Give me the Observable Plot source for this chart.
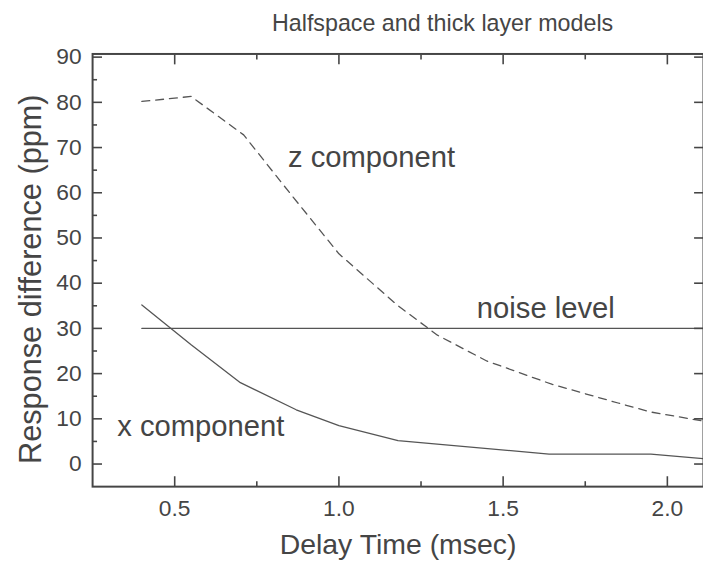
<!DOCTYPE html>
<html>
<head>
<meta charset="utf-8">
<script src="https://cdn.jsdelivr.net/npm/d3@7"></script>
<script src="https://cdn.jsdelivr.net/npm/@observablehq/plot@0.6"></script>
<style>
html, body { margin: 0; padding: 0; background: #fff; overflow: hidden; width: 703px; height: 569px; }
#chart svg { display: block; }
</style>
</head>
<body>
<div id="chart"></div>
<script>
// ---- chart text ----
const chartTitle = "Halfspace and thick layer models";
const xAxisTitle = "Delay Time (msec)";
const yAxisTitle = "Response difference (ppm)";

// ---- ticks ----
const xMajorTicks = [0.5, 1.0, 1.5, 2.0];
const xMinorTicks = [0.75, 1.25, 1.75];
const yMajorTicks = [0, 10, 20, 30, 40, 50, 60, 70, 80, 90];
const yMinorTicks = [5, 15, 25, 35, 45, 55, 65, 75, 85];

// ---- series ----
const xCompTime  = [0.4, 0.55, 0.7, 0.87, 1.0, 1.18, 1.64, 1.95, 2.11];
const xCompValue = [35.2, 26.4, 18.0, 12.0, 8.5, 5.2, 2.2, 2.2, 1.2];

const zCompTime  = [0.4, 0.55, 0.71, 0.85, 1.0, 1.18, 1.3, 1.45, 1.65, 1.85, 1.95, 2.11];
const zCompValue = [80.2, 81.3, 72.8, 60.0, 46.5, 35.0, 28.5, 22.8, 17.6, 13.5, 11.5, 9.5];

const noiseTime  = [0.4, 2.11];
const noiseValue = [30, 30];

// ---- in-plot labels ----
const labelText = ["z component", "noise level", "x component"];
const labelTime = [0.845, 1.42, 0.325];
const labelValue = [65.7, 32.2, 6.3];

const toRows = (xs, ys) => xs.map((x, i) => ({x, y: ys[i]}));
const xRows = toRows(xCompTime, xCompValue);
const zRows = toRows(zCompTime, zCompValue);
const nRows = toRows(noiseTime, noiseValue);
const labelRows = labelText.map((t, i) => ({t, x: labelTime[i], y: labelValue[i]}));

const ink = "#454545";
const lineInk = "#555555";
const tickOpts = {fill: "none", label: null, stroke: ink, strokeWidth: 1.6};

const chart = Plot.plot({
  width: 710,
  height: 569,
  marginLeft: 93,
  marginRight: 0,
  marginTop: 54,
  marginBottom: 78,
  style: {fontFamily: "'Liberation Sans', Arial, Helvetica, sans-serif", fontSize: "23px", color: ink, background: "#fff"},
  x: {domain: [0.25, 2.11]},
  y: {domain: [-5, 90.7]},
  marks: [
    Plot.line(nRows, {x: "x", y: "y", stroke: lineInk, strokeWidth: 1.3}),
    Plot.line(xRows, {x: "x", y: "y", stroke: lineInk, strokeWidth: 1.3}),
    Plot.line(zRows, {x: "x", y: "y", stroke: lineInk, strokeWidth: 1.3, strokeDasharray: "8,6"}),
    Plot.text(labelRows, {x: "x", y: "y", text: "t", textAnchor: "start", lineAnchor: "bottom", fontSize: 29.5, fill: ink}),

    // inward ticks
    Plot.axisY(yMajorTicks, {anchor: "left", tickSize: -10, ...tickOpts}),
    Plot.axisY(yMinorTicks, {anchor: "left", tickSize: -5, ...tickOpts}),
    Plot.axisY(yMajorTicks, {anchor: "right", tickSize: -10, ...tickOpts}),
    Plot.axisX(xMajorTicks, {anchor: "bottom", tickSize: -10, ...tickOpts}),
    Plot.axisX(xMinorTicks, {anchor: "bottom", tickSize: -5, ...tickOpts}),
    Plot.axisX(xMajorTicks, {anchor: "top", tickSize: -10, ...tickOpts}),
    Plot.axisX(xMinorTicks, {anchor: "top", tickSize: -5, ...tickOpts}),

    // tick labels
    Plot.axisY(yMajorTicks, {anchor: "left", tickSize: 0, tickPadding: 11, stroke: "none", label: null, fontSize: 23, fill: ink, tickFormat: d => String(d)}),
    Plot.axisX(xMajorTicks, {anchor: "bottom", tickSize: 0, tickPadding: 13, stroke: "none", label: null, fontSize: 23, fill: ink, tickFormat: d3.format(".1f")}),

    // frame
    Plot.frame({stroke: ink, strokeWidth: 2}),

    // titles
    Plot.text([chartTitle], {frameAnchor: "top", dx: 45, dy: -23, lineAnchor: "bottom", fontSize: 23.5, fill: ink}),
    Plot.text([xAxisTitle], {frameAnchor: "bottom", dy: 68, lineAnchor: "bottom", fontSize: 28.7, fill: ink}),
    Plot.text([yAxisTitle], {frameAnchor: "left", dx: -52, dy: 9, rotate: -90, textAnchor: "middle", lineAnchor: "bottom", fontSize: 31, fill: ink})
  ]
});
document.getElementById("chart").appendChild(chart);
</script>
</body>
</html>
